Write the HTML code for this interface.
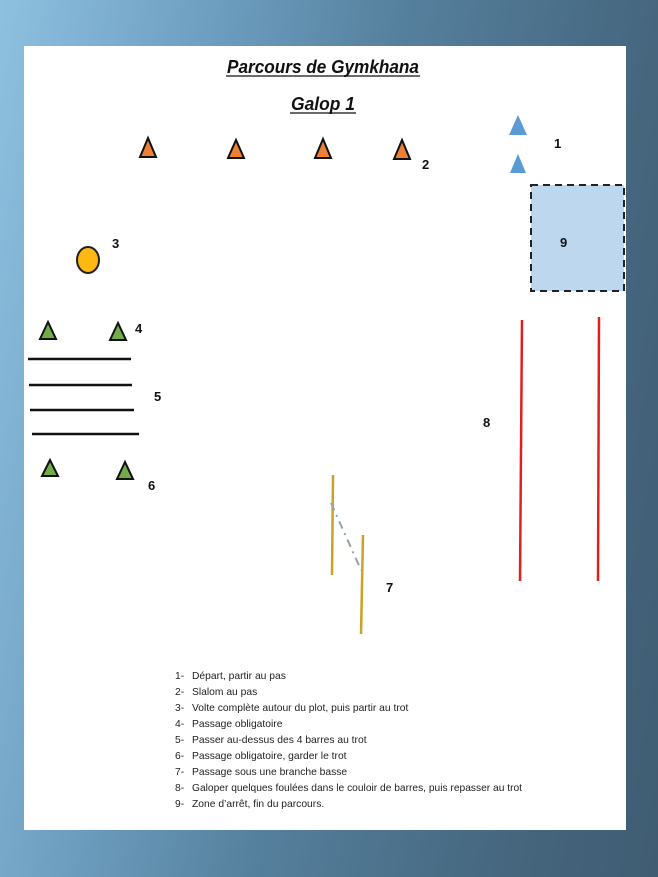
<!DOCTYPE html>
<html><head><meta charset="utf-8"><style>
html,body{margin:0;padding:0}
body{width:658px;height:877px;overflow:hidden;background:linear-gradient(100deg,#8ec0e0 0%,#6fa0c2 25%,#55809d 50%,#46677f 80%,#3f5c72 100%);position:relative;font-family:"Liberation Sans",sans-serif}
svg{position:absolute;left:0;top:0}
</style></head><body>
<svg width="658" height="877" viewBox="0 0 658 877">
<rect x="24" y="46" width="602" height="784" fill="#fff"/>
<g font-family="Liberation Sans, sans-serif" font-style="italic" font-weight="bold" fill="#111">
<text x="323" y="73" font-size="18" text-anchor="middle" textLength="192" lengthAdjust="spacingAndGlyphs">Parcours de Gymkhana</text>
<line x1="226" y1="76" x2="420" y2="76" stroke="#111" stroke-width="1.3"/>
<text x="323" y="110" font-size="18" text-anchor="middle" textLength="64" lengthAdjust="spacingAndGlyphs">Galop 1</text>
<line x1="290" y1="113" x2="356" y2="113" stroke="#111" stroke-width="1.3"/>
</g>
<g stroke="#111" stroke-width="2" fill="#ee8033">
<polygon points="148,138 140,157 156,157"/>
<polygon points="236,140 228,158 244,158"/>
<polygon points="323,139 315,158 331,158"/>
<polygon points="402,140 394,159 410,159"/>
</g>
<g fill="#5b9bd5">
<polygon points="518,115 509,135 527,135"/>
<polygon points="518,154 510,173 526,173"/>
</g>
<rect x="531" y="185" width="93" height="106" fill="#bdd7ee" stroke="#222" stroke-width="2" stroke-dasharray="7,5"/>
<ellipse cx="88" cy="260" rx="11" ry="13" fill="#fdb813" stroke="#222" stroke-width="2"/>
<g fill="#70ad47" stroke="#111" stroke-width="2">
<polygon points="48,322 40,339 56,339"/>
<polygon points="118,323 110,340 126,340"/>
<polygon points="50,460 42,476 58,476"/>
<polygon points="125,462 117,479 133,479"/>
</g>
<g stroke="#111" stroke-width="2.5">
<line x1="28" y1="359" x2="131" y2="359"/>
<line x1="29" y1="385" x2="132" y2="385"/>
<line x1="30" y1="410" x2="134" y2="410"/>
<line x1="32" y1="434" x2="139" y2="434"/>
</g>
<g stroke="#e02020" stroke-width="2.5">
<line x1="522" y1="320" x2="520" y2="581"/>
<line x1="599" y1="317" x2="598" y2="581"/>
</g>
<g stroke="#c9a227" stroke-width="2.5">
<line x1="333" y1="475" x2="332" y2="575"/>
<line x1="363" y1="535" x2="361" y2="634"/>
</g>
<line x1="331" y1="503" x2="361" y2="570" stroke="#8fa3b3" stroke-width="2" stroke-dasharray="8,5,2,5"/>
<g font-family="Liberation Sans, sans-serif" font-weight="bold" font-size="13" fill="#111">
<text x="554" y="148">1</text>
<text x="422" y="169">2</text>
<text x="112" y="248">3</text>
<text x="135" y="333">4</text>
<text x="154" y="401">5</text>
<text x="148" y="490">6</text>
<text x="386" y="592">7</text>
<text x="483" y="427">8</text>
<text x="560" y="247">9</text>
</g>
<g font-family="Liberation Sans, sans-serif" font-size="10.3" fill="#222">
<text x="175" y="679">1-</text><text x="192" y="679">Départ, partir au pas</text>
<text x="175" y="695">2-</text><text x="192" y="695">Slalom au pas</text>
<text x="175" y="711">3-</text><text x="192" y="711">Volte complète autour du plot, puis partir au trot</text>
<text x="175" y="727">4-</text><text x="192" y="727">Passage obligatoire</text>
<text x="175" y="743">5-</text><text x="192" y="743">Passer au-dessus des 4 barres au trot</text>
<text x="175" y="759">6-</text><text x="192" y="759">Passage obligatoire, garder le trot</text>
<text x="175" y="775">7-</text><text x="192" y="775">Passage sous une branche basse</text>
<text x="175" y="791">8-</text><text x="192" y="791" textLength="330" lengthAdjust="spacingAndGlyphs">Galoper quelques foulées dans le couloir de barres, puis repasser au trot</text>
<text x="175" y="807">9-</text><text x="192" y="807">Zone d’arrêt, fin du parcours.</text>
</g>
</svg>
</body></html>
